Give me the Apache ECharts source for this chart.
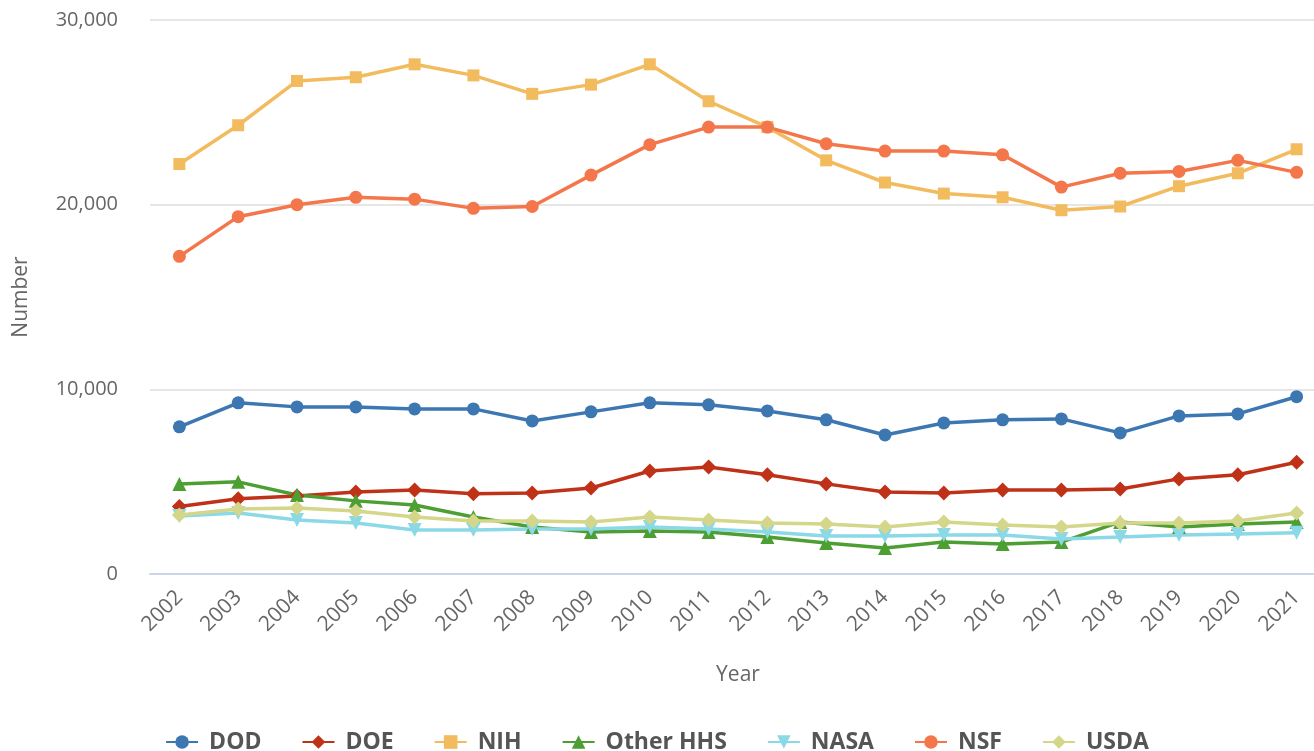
<!DOCTYPE html>
<html>
<head>
<meta charset="utf-8">
<script src="https://cdn.jsdelivr.net/npm/echarts@6/dist/echarts.min.js"></script>
<style>
html,body{margin:0;padding:0;background:#fff;}
#chart{width:1314px;height:751px;}
</style>
</head>
<body>
<div id="chart"></div>
<script>
const years = ['2002','2003','2004','2005','2006','2007','2008','2009','2010','2011','2012','2013','2014','2015','2016','2017','2018','2019','2020','2021'];
const yTicks = [0, 10000, 20000, 30000];

const DOD = [7970, 9270, 9050, 9050, 8940, 8940, 8290, 8780, 9270, 9160, 8830, 8350, 7530, 8180, 8350, 8400, 7640, 8560, 8670, 9600];
const DOE = [3650, 4070, 4230, 4440, 4550, 4340, 4390, 4660, 5580, 5800, 5370, 4880, 4440, 4390, 4550, 4550, 4600, 5150, 5370, 6050];
const NIH = [22200, 24300, 26700, 26900, 27600, 27000, 26000, 26500, 27600, 25600, 24200, 22400, 21200, 20600, 20400, 19700, 19900, 21000, 21700, 23000];
const OtherHHS = [4880, 4990, 4280, 3960, 3740, 3090, 2550, 2280, 2330, 2280, 2000, 1680, 1410, 1730, 1630, 1730, 2820, 2550, 2710, 2820];
const NASA = [3140, 3300, 2930, 2760, 2380, 2380, 2440, 2440, 2550, 2440, 2280, 2060, 2060, 2110, 2110, 1900, 2000, 2110, 2170, 2240];
const NSF = [17200, 19350, 20000, 20400, 20300, 19800, 19900, 21600, 23250, 24200, 24200, 23300, 22900, 22900, 22700, 20950, 21700, 21800, 22400, 21750];
const USDA = [3200, 3520, 3580, 3410, 3090, 2870, 2870, 2820, 3090, 2930, 2760, 2710, 2550, 2820, 2660, 2550, 2760, 2760, 2870, 3300];

const seriesDefs = [
  {name:'DOD', data:DOD, color:'#3c77b2', symbol:'circle', size:13, rotate:0},
  {name:'DOE', data:DOE, color:'#c03218', symbol:'diamond', size:15, rotate:0},
  {name:'NIH', data:NIH, color:'#f2bb5e', symbol:'rect', size:12, rotate:0},
  {name:'Other HHS', data:OtherHHS, color:'#4d9e33', symbol:'triangle', size:14, rotate:0},
  {name:'NASA', data:NASA, color:'#8bd8e6', symbol:'triangle', size:14, rotate:180},
  {name:'NSF', data:NSF, color:'#f4764b', symbol:'circle', size:13, rotate:0},
  {name:'USDA', data:USDA, color:'#d4d68a', symbol:'diamond', size:15, rotate:0}
];

const chart = echarts.init(document.getElementById('chart'), null, {renderer:'canvas'});
const font = '"Open Sans", "Noto Sans", sans-serif';
chart.setOption({
  animation:false,
  backgroundColor:'#ffffff',
  grid:{left:150, width:1176, top:20, bottom:177, containLabel:false, outerBoundsMode:'none'},
  legend:{
    top:724, left:'center',
    itemWidth:32, itemHeight:17, itemGap:40,
    textStyle:{fontFamily:font, fontSize:23, lineHeight:26, fontWeight:'bold', color:'#555', padding:[0,0,0,6]},
    data: seriesDefs.map(s=>s.name)
  },
  xAxis:{
    type:'category', data:years, boundaryGap:true,
    name:'Year', nameLocation:'middle', nameGap:91,
    nameTextStyle:{fontFamily:font, fontSize:21, color:'#666'},
    axisLine:{lineStyle:{color:'#ccd6eb', width:2}},
    axisTick:{alignWithLabel:true, length:19, lineStyle:{color:'#ccd6eb', width:2}},
    axisLabel:{rotate:45, fontFamily:font, fontSize:21, color:'#666', margin:20, interval:0},
    splitLine:{show:false}
  },
  yAxis:{
    type:'value', min:yTicks[0], max:yTicks[yTicks.length-1], interval:yTicks[1]-yTicks[0],
    name:'Number', nameLocation:'middle', nameGap:118,
    nameTextStyle:{fontFamily:font, fontSize:21, color:'#666'},
    axisLine:{show:false}, axisTick:{show:false},
    axisLabel:{fontFamily:font, fontSize:20, color:'#666', margin:32,
      formatter:v=>v.toLocaleString('en-US')},
    splitLine:{lineStyle:{color:'#e6e6e6', width:2}}
  },
  series: seriesDefs.map(s=>({
    name:s.name, type:'line', data:s.data,
    symbol:s.symbol, symbolSize:s.size, symbolRotate:s.rotate,
    showSymbol:true,
    lineStyle:{color:s.color, width:3.5},
    itemStyle:{color:s.color},
    emphasis:{disabled:true}
  }))
});
</script>
</body>
</html>
